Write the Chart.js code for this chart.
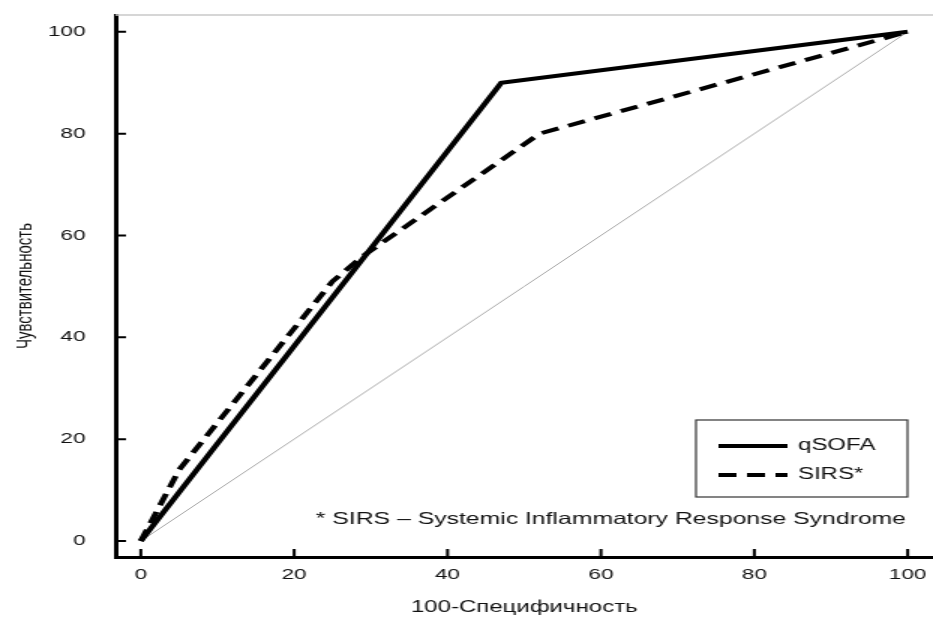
<!DOCTYPE html>
<html>
<head>
<meta charset="utf-8">
<script src="https://cdn.jsdelivr.net/npm/chart.js@4/dist/chart.umd.min.js"></script>
<style>
  html, body { margin: 0; padding: 0; background: #fff; overflow: hidden; }
  /* the original picture is stretched sideways, so the canvas is drawn narrow and widened by css */
  #roc { display: block; width: 933px !important; height: 617px !important; }
</style>
</head>
<body>
<canvas id="roc" width="622" height="617" style="width:933px;height:617px"></canvas>
<script>
// ROC data: 100-specificity (x) vs sensitivity (y), in %
var qsofaX = [0, 47, 100];
var qsofaY = [0, 90, 100];
var sirsX = [0, 5, 25, 29, 52, 100];
var sirsY = [0, 14, 51, 56, 80, 100];
var chanceX = [0, 100];
var chanceY = [0, 100];

var xTicks = [0, 20, 40, 60, 80, 100];
var yTicks = [0, 20, 40, 60, 80, 100];

var seriesNames = ['qSOFA', 'SIRS*'];
var footnote = '* SIRS \u2013 Systemic Inflammatory Response Syndrome';
var xTitle = '100-Специфичность';
var yTitle = 'Чувствительность';

var FONT = "'Liberation Sans', Arial, sans-serif";
var INK = '#111';

function toPoints(xs, ys) {
    var pts = [];
    for (var i = 0; i < xs.length; i++) {
        pts.push({ x: xs[i], y: ys[i] });
    }
    return pts;
}

// keep the plot area where the picture has it, not where label sizes push it
function noEdgePadding(scale) {
    scale.paddingTop = 0;
    scale.paddingBottom = 0;
    scale.paddingLeft = 0;
    scale.paddingRight = 0;
}

// top frame line, inward ticks, boxed legend and footnote
var rocDecor = {
    id: 'rocDecor',
    beforeDatasetsDraw: function (chart) {
        var ctx = chart.ctx, a = chart.chartArea;
        ctx.save();
        ctx.strokeStyle = '#c8c8c8';
        ctx.lineWidth = 1.5;
        ctx.beginPath();
        ctx.moveTo(a.left, a.top);
        ctx.lineTo(a.right, a.top);
        ctx.stroke();
        ctx.restore();
    },
    afterDraw: function (chart) {
        var ctx = chart.ctx, a = chart.chartArea;
        var xs = chart.scales.x, ys = chart.scales.y;
        ctx.save();
        ctx.strokeStyle = '#000';
        ctx.lineWidth = 2;
        ctx.beginPath();
        xTicks.forEach(function (v) {
            var px = xs.getPixelForValue(v);
            ctx.moveTo(px, a.bottom);
            ctx.lineTo(px, a.bottom - 8);
        });
        yTicks.forEach(function (v) {
            var py = ys.getPixelForValue(v);
            ctx.moveTo(a.left, py);
            ctx.lineTo(a.left + 7, py);
        });
        ctx.stroke();

        // legend box
        var boxR = a.right - 17, boxL = boxR - 141;
        var boxB = a.bottom - 60, boxT = boxB - 77;
        ctx.strokeStyle = '#333';
        ctx.lineWidth = 1.2;
        ctx.strokeRect(boxL, boxT, boxR - boxL, boxB - boxT);
        var rows = [boxT + 26, boxT + 55];
        ctx.font = '16px ' + FONT;
        ctx.textBaseline = 'middle';
        ctx.textAlign = 'left';
        for (var i = 0; i < seriesNames.length; i++) {
            var ds = chart.data.datasets[i];
            ctx.strokeStyle = ds.borderColor;
            ctx.lineWidth = ds.borderWidth;
            ctx.setLineDash(ds.borderDash || []);
            ctx.beginPath();
            ctx.moveTo(boxL + 15, rows[i]);
            ctx.lineTo(boxL + 61, rows[i]);
            ctx.stroke();
            ctx.setLineDash([]);
            ctx.fillStyle = INK;
            ctx.fillText(seriesNames[i], boxL + 68, rows[i]);
        }

        // footnote
        ctx.font = '16.5px ' + FONT;
        ctx.textAlign = 'right';
        ctx.textBaseline = 'alphabetic';
        ctx.fillStyle = INK;
        ctx.fillText(footnote, a.right - 18, 524);
        ctx.restore();
    }
};

var ctx = document.getElementById('roc');
var rocChart = new Chart(ctx, {
    type: 'line',
    data: {
        datasets: [{
            label: seriesNames[0],
            data: toPoints(qsofaX, qsofaY),
            borderColor: '#000',
            borderWidth: 4,
            pointRadius: 0,
            tension: 0
        }, {
            label: seriesNames[1],
            data: toPoints(sirsX, sirsY),
            borderColor: '#000',
            borderWidth: 4,
            borderDash: [12, 7],
            pointRadius: 0,
            tension: 0
        }, {
            label: 'chance',
            data: toPoints(chanceX, chanceY),
            borderColor: '#a8a8a8',
            borderWidth: 1,
            pointRadius: 0,
            tension: 0,
            order: 1
        }]
    },
    options: {
        responsive: false,
        animation: false,
        devicePixelRatio: 1,
        layout: { padding: { top: 15, right: 0, bottom: 0, left: 0 } },
        plugins: {
            legend: { display: false },
            tooltip: { enabled: false }
        },
        scales: {
            x: {
                type: 'linear',
                min: -3.3,
                max: 103.3,
                grid: { display: false },
                border: { display: true, color: '#000', width: 3 },
                afterBuildTicks: function (scale) {
                    scale.ticks = xTicks.map(function (v) { return { value: v }; });
                },
                afterFit: function (scale) {
                    scale.height = 60;
                    noEdgePadding(scale);
                },
                ticks: {
                    padding: 1,
                    maxRotation: 0,
                    color: INK,
                    font: { family: FONT, size: 15 }
                },
                title: {
                    display: true,
                    text: xTitle,
                    color: INK,
                    padding: { top: 0, bottom: 0 },
                    font: { family: FONT, size: 16 }
                }
            },
            y: {
                type: 'linear',
                min: -3.14,
                max: 103.3,
                grid: { display: false },
                border: { display: true, color: '#000', width: 3 },
                afterBuildTicks: function (scale) {
                    scale.ticks = yTicks.map(function (v) { return { value: v }; });
                },
                afterFit: function (scale) {
                    scale.width = 77;
                    noEdgePadding(scale);
                },
                ticks: {
                    padding: 12,
                    color: INK,
                    font: { family: FONT, size: 15 }
                },
                title: {
                    display: true,
                    text: yTitle,
                    color: INK,
                    padding: { top: 8, bottom: 0 },
                    font: { family: FONT, size: 15 }
                }
            }
        }
    },
    plugins: [rocDecor]
});
</script>
</body>
</html>
